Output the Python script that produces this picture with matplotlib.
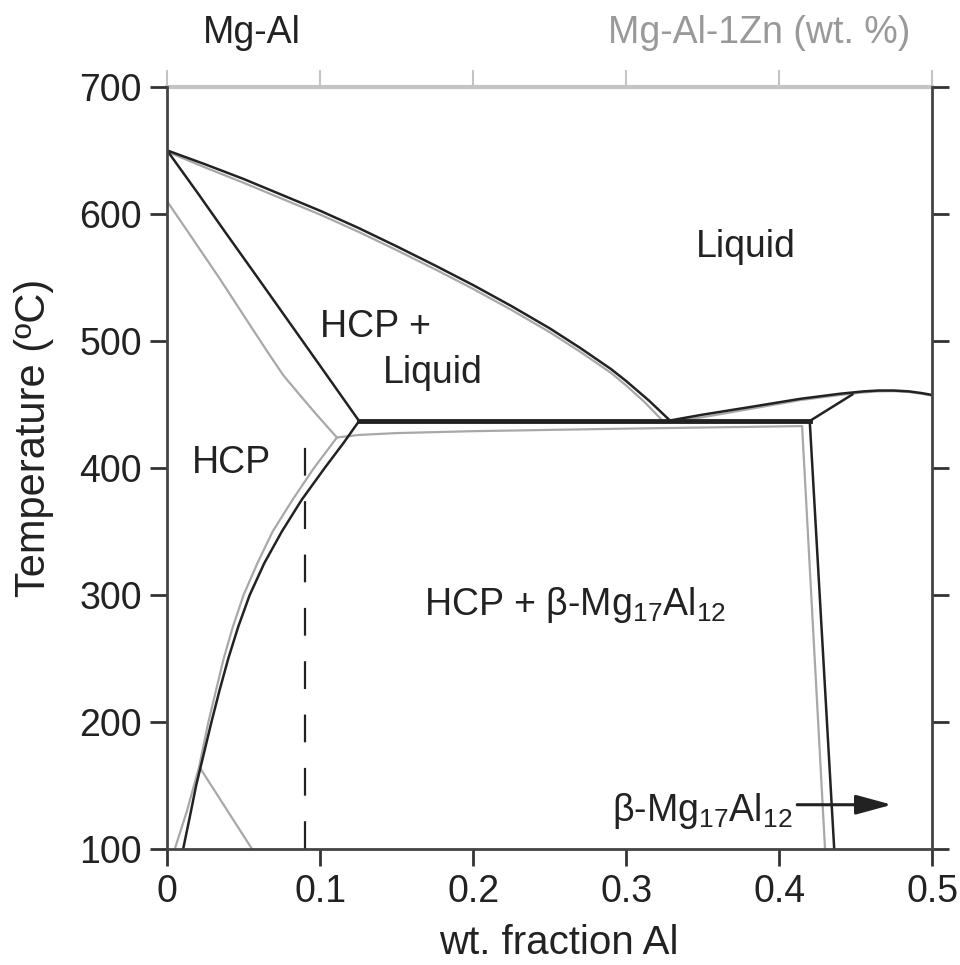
import matplotlib
matplotlib.use("Agg")
import matplotlib.pyplot as plt
import numpy as np

plt.rcParams['font.family'] = ['Liberation Sans', 'DejaVu Sans']
plt.rcParams['mathtext.fontset'] = 'custom'
plt.rcParams['mathtext.rm'] = 'Liberation Sans'
plt.rcParams['mathtext.it'] = 'Liberation Sans:italic'

# Mg-Al (black lines)
liq_x = [0, 0.025, 0.05, 0.075, 0.1, 0.125, 0.15, 0.175, 0.2, 0.225, 0.25, 0.27,
         0.29, 0.3, 0.315, 0.329]
liq_T = [650, 639, 627.5, 615, 602.5, 589, 574.5, 559.5, 544, 527.5, 510, 494.5,
         478, 468.5, 453, 437]
sol_x = [0, 0.02, 0.039, 0.06, 0.08, 0.1, 0.1255]
sol_T = [650, 616.5, 584, 548.5, 514.5, 480.5, 437]
solv_x = [0.1255, 0.1155, 0.103, 0.088, 0.075, 0.0635, 0.054, 0.0465, 0.040, 0.0343,
          0.029, 0.024, 0.019, 0.0148, 0.0105]
solv_T = [437, 420, 400, 375, 350, 325, 300, 275, 250, 225,
          200, 175, 150, 125, 100]
eut_x = [0.1255, 0.42]
eut_T = [437, 437]
beta_x = [0.42, 0.436]
beta_T = [437, 100]
beta_sol_x = [0.42, 0.448]
beta_sol_T = [437, 458]
beta_liq_x = [0.329, 0.35, 0.381, 0.414, 0.44, 0.455, 0.465, 0.475, 0.485, 0.493, 0.5]
beta_liq_T = [437.5, 442, 448, 454.5, 458.5, 460.3, 461, 461, 460.3, 459, 457.5]

# Mg-Al-1Zn (grey lines)
g_liq_x = [0, 0.025, 0.05, 0.075, 0.1, 0.125, 0.15, 0.175, 0.2, 0.225, 0.25, 0.27,
           0.29, 0.3, 0.312, 0.324]
g_liq_T = [649, 636.5, 624.5, 612, 599.5, 586, 571.5, 556.5, 541, 524.5, 507, 491.5,
           475, 465, 452, 437]
g_sol_x = [0, 0.017, 0.035, 0.055, 0.067, 0.076, 0.085, 0.097, 0.111]
g_sol_T = [610, 580, 548, 511, 489, 473, 460, 443, 424]
g_solv_x = [0.111, 0.096, 0.082, 0.069, 0.059, 0.050, 0.043, 0.037, 0.032, 0.027,
            0.021, 0.013, 0.005]
g_solv_T = [424, 400, 375, 350, 325, 300, 275, 250, 225, 200,
            165, 130, 100]
g_branch_x = [0.021, 0.0556]
g_branch_T = [165, 100]
g_eut_x = [0.111, 0.125, 0.15, 0.2, 0.3, 0.415]
g_eut_T = [424, 426, 427.5, 429, 431, 433]
g_beta_x = [0.415, 0.43]
g_beta_T = [433, 100]
g_beta_liq_x = [0.324, 0.35, 0.381, 0.414, 0.44, 0.455, 0.465, 0.475, 0.485, 0.493, 0.5]
g_beta_liq_T = [436, 440, 446.5, 453.5, 457.5, 459.5, 460.3, 460.5, 459.8, 458.5, 457]

alloy_x = 0.09
alloy_T = [100, 424]

xticks = [0, 0.1, 0.2, 0.3, 0.4, 0.5]
xticklabels = ['0', '0.1', '0.2', '0.3', '0.4', '0.5']
yticks = [100, 200, 300, 400, 500, 600, 700]

black = '#222222'
grey = '#a8a8a8'

fig = plt.figure(figsize=(9.6, 9.65), dpi=100)
ax = fig.add_axes([0.174, 0.120, 0.797, 0.790])

gl = dict(color=grey, lw=1.6, solid_joinstyle='round', solid_capstyle='round')
ax.plot(g_liq_x, g_liq_T, **gl)
ax.plot(g_sol_x, g_sol_T, **gl)
ax.plot(g_solv_x, g_solv_T, **gl)
ax.plot(g_branch_x, g_branch_T, **gl)
ax.plot(g_eut_x, g_eut_T, **gl)
ax.plot(g_beta_x, g_beta_T, **gl)
ax.plot(g_beta_liq_x, g_beta_liq_T, **gl)

bl = dict(color=black, lw=1.8, solid_joinstyle='round', solid_capstyle='round')
ax.plot(liq_x, liq_T, **bl)
ax.plot(sol_x, sol_T, **bl)
ax.plot(solv_x, solv_T, **bl)
ax.plot(eut_x, eut_T, color=black, lw=3.5)
ax.plot(beta_x, beta_T, **bl)
ax.plot(beta_sol_x, beta_sol_T, **bl)
ax.plot(beta_liq_x, beta_liq_T, **bl)

ax.plot([alloy_x, alloy_x], alloy_T, color=black, lw=1.6, dashes=(12.5, 11.5))

ax.set_xlim(0, 0.5)
ax.set_ylim(100, 700)
ax.set_xticks(xticks)
ax.set_xticklabels(xticklabels)
ax.set_yticks(yticks)

fs = 27
for s in ['left', 'bottom', 'right']:
    ax.spines[s].set_color('#444444')
    ax.spines[s].set_linewidth(2)
ax.spines['top'].set_visible(False)
ax.yaxis.set_ticks_position('both')
ax.tick_params(axis='both', direction='out', length=12, width=2, color='#333333',
               labelsize=fs, labelcolor='#222222', pad=6)
ax.tick_params(axis='y', right=True, labelright=False)

top = ax.secondary_xaxis('top')
top.set_xticks(xticks)
top.set_xticklabels([])
top.spines['top'].set_color('#c4c4c4')
top.spines['top'].set_linewidth(3)
top.tick_params(direction='out', length=12, width=1.5, color='#c4c4c4')

ax.set_xlabel('wt. fraction Al', fontsize=29, color='#222222')
ax.xaxis.set_label_coords(0.512, -0.098)
ax.set_ylabel('Temperature (ºC)', fontsize=30, color='#222222')
ax.yaxis.set_label_coords(-0.148, 0.54)

tc = '#222222'
ax.text(0.378, 574, 'Liquid', fontsize=fs, color=tc, ha='center', va='center')
ax.text(0.136, 511, 'HCP +', fontsize=fs, color=tc, ha='center', va='center')
ax.text(0.174, 475, 'Liquid', fontsize=fs, color=tc, ha='center', va='center')
ax.text(0.042, 404, 'HCP', fontsize=fs, color=tc, ha='center', va='center')
ax.text(0.267, 292, r'HCP + β-Mg$_{17}$Al$_{12}$', fontsize=fs, color=tc,
        ha='center', va='center')
ax.text(0.350, 130, r'β-Mg$_{17}$Al$_{12}$', fontsize=fs, color=tc,
        ha='center', va='center')
ax.annotate('', xy=(0.4755, 135), xytext=(0.410, 135),
            arrowprops=dict(arrowstyle='-|>,head_length=2.2,head_width=0.6',
                            mutation_scale=10, color=black, lw=2.2))

fig.text(0.262, 0.966, 'Mg-Al', fontsize=fs, color='#222222', ha='center', va='center')
fig.text(0.948, 0.966, 'Mg-Al-1Zn (wt. %)', fontsize=fs, color='#999999',
         ha='right', va='center')

fig.savefig('out.png', dpi=100)
